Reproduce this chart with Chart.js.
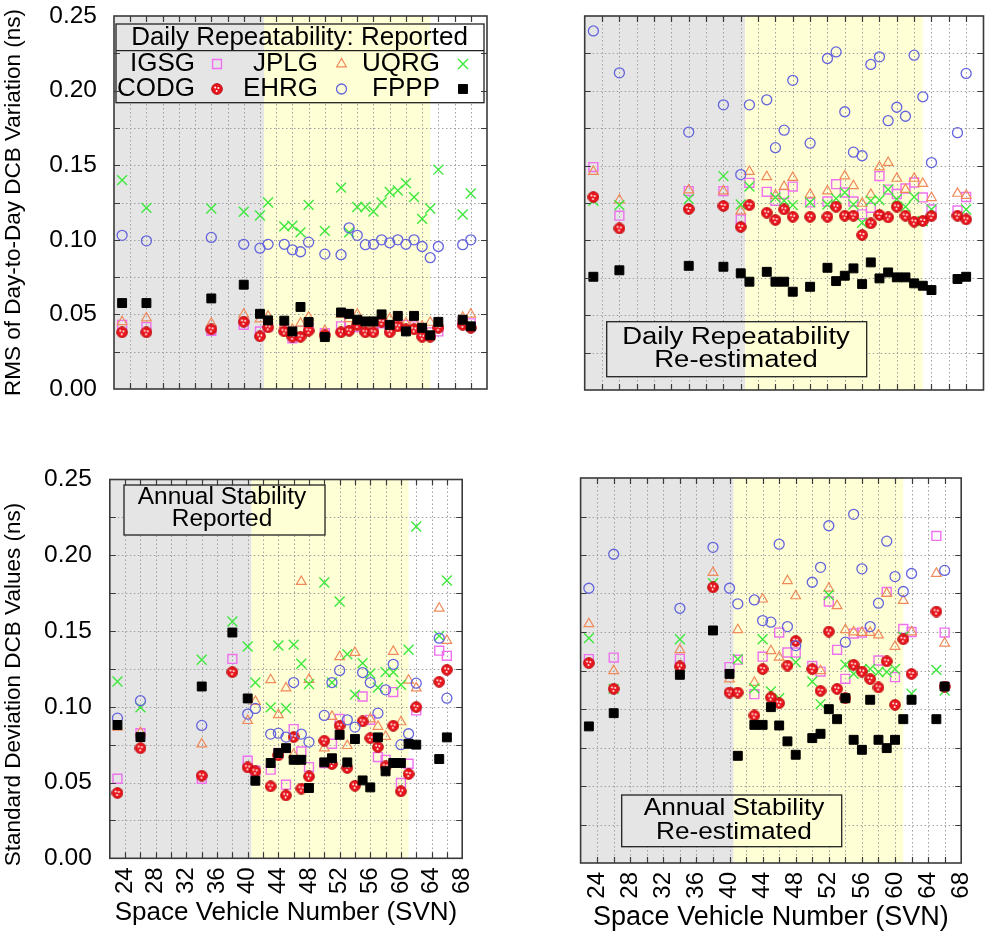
<!DOCTYPE html>
<html><head><meta charset="utf-8">
<script src="https://cdn.jsdelivr.net/npm/chart.js@4.4.1/dist/chart.umd.min.js"></script>
<style>
html,body{margin:0;padding:0;background:#fff;}
#wrap{position:relative;width:999px;height:939px;overflow:hidden;background:#fff;}
#wrap canvas{position:absolute;}
</style></head><body><div id="wrap">
<canvas id="cTL" width="500" height="410" style="left:0px;top:0px"></canvas>
<canvas id="cTR" width="499" height="410" style="left:500px;top:0px"></canvas>
<canvas id="cBL" width="500" height="529" style="left:0px;top:410px"></canvas>
<canvas id="cBR" width="499" height="529" style="left:500px;top:410px"></canvas>
</div>
<script>
// ================= DATA =================
const seriesNames = ['IGSG', 'JPLG', 'UQRG', 'CODG', 'EHRG', 'FPPP'];
const xTickLabels = [24, 28, 32, 36, 40, 44, 48, 52, 56, 60, 64, 68];
const yTickLabels = [0, 0.05, 0.10, 0.15, 0.20, 0.25];
const blockBounds = [40.5, 61];   // IIA | IIR/IIR-M | IIF shading boundaries (SVN)

// Daily repeatability (top panels)
const svnDaily = [23, 26, 34, 38, 40, 41, 43, 44, 45, 46, 48, 50, 51, 52, 53, 54, 55, 56, 57, 58, 59, 60, 61, 62, 65, 66];
// reported (top-left)
const drIGSG = [.043, .0415, .039, .043, .0386, .042, .0397, .034, .039, .041, .0375, .042, .0446, .0415, .0397, .041, .044, .041, .043, .043, .042, .038, .038, .0386, .045, .044];
const drJPLG = [.045, .0475, .044, .050, .0469, .0487, .043, .040, .044, .048, .039, .050, .047, .050, .043, .044, .047, .047, .046, .044, .045, .042, .0446, .044, .048, .050];
const drUQRG = [.140, .1214, .121, .1188, .1163, .125, .109, .1094, .105, .1234, .106, .135, .105, .122, .122, .119, .125, .132, .133, .138, .1286, .114, .121, .147, .117, .131];
const drCODG = [.038, .038, .040, .045, .0353, .0413, .0386, .035, .035, .039, .036, .038, .039, .043, .038, .038, .045, .038, .042, .040, .040, .035, .035, .041, .043, .041];
const drEHRG = [.103, .0993, .1016, .097, .0944, .097, .097, .0933, .092, .0984, .0904, .090, .108, .103, .0967, .097, .100, .098, .100, .097, .100, .0955, .088, .0955, .0967, .100];
const drFPPP = [.0576, .0576, .0607, .0699, .0504, .046, .0458, .0386, .055, .0449, .0348, .0513, .0504, .0464, .0453, .0453, .050, .043, .049, .0386, .049, .041, .036, .045, .0464, .042];
// re-estimated (top-right)
const deIGSG = [.149, .1165, .133, .133, .114, .1385, .1325, .1265, .131, .136, .1254, .126, .1376, .132, .126, .1174, .1218, .143, .134, .131, .1347, .1387, .1287, .1207, .120, .129];
const deJPLG = [.146, .127, .1336, .133, .1196, .146, .1425, .130, .136, .142, .1307, .133, null, .143, .1365, .1247, .1307, .149, .152, .1414, .134, .1414, .138, .1285, .1314, .130];
const deUQRG = [.1265, .1236, .1276, .143, .124, .136, null, .1287, .1265, .1236, .1254, .124, .128, .132, .124, .1118, .1265, .127, .134, .1276, .1225, .129, .113, .1207, null, .1207];
const deCODG = [.129, .108, .121, .123, .109, .1236, .1185, .1136, .1207, .1158, .1158, .1158, .1225, .1165, .1165, .1036, .1114, .117, .1154, .1225, .1165, .1125, .113, .1163, .1165, .114];
const deEHRG = [.240, .212, .1724, .1906, .144, .1906, .194, .162, .1737, .207, .165, .2216, .226, .186, .159, .1566, .2176, .2227, .18, .189, .183, .2238, .196, .152, .172, .2116];
const deFPPP = [.0757, .080, .083, .0824, .078, .0724, .079, .0724, .0724, .0657, .069, .0817, .0728, .0764, .0813, .0708, .0853, .0746, .0786, .0753, .0753, .0713, .0697, .0668, .0742, .0757];

// Annual stability (bottom panels)
const svnAnnual = [23, 26, 34, 38, 40, 41, 43, 44, 45, 46, 47, 48, 50, 51, 52, 53, 54, 55, 56, 57, 58, 59, 60, 61, 62, 65, 66];
// reported (bottom-left)
const arIGSG = [.0525, .0826, .0525, .1316, .0644, .0578, .0585, .0695, .0486, .0853, .0705, .0602, .0629, .0756, .092, null, null, .1068, .0914, .0668, .065, .1097, .0497, .0624, .0976, .137, .1336];
const arJPLG = [.0864, .083, .0754, null, .0908, .1035, .1178, .0947, .1123, .0684, .1826, .118, .0727, .0936, .133, .0743, .1358, null, .0919, .087, .0804, .1365, .090, .1174, .1123, .165, .1437];
const arUQRG = [.1167, .0996, .131, .1563, .1398, .116, .0996, .1404, .099, .141, .1284, .115, .182, .116, .1695, .1347, .108, .1288, .122, .1127, .1229, .1229, .1145, .1376, .219, .1468, .1833];
const arCODG = [.0431, .0727, .0545, .1229, .060, .0574, .0475, .068, .0415, .080, .046, .054, .0776, .0622, .0875, .0596, .0479, .0903, .0793, .0734, .0607, .0875, .0442, .0556, .0998, .1165, .1244];
const arEHRG = [.0925, .104, .0877, null, .0952, .0989, .082, .0826, .080, .116, .082, .0767, .0943, .116, .124, .0914, .0866, .1226, .116, .0958, .1112, .128, .075, .0822, .1156, .1453, .1057];
const arFPPP = [.088, .080, .1134, .149, .1055, .0512, .0629, .0695, .0727, .065, .065, .0464, .0633, .066, .0815, .0633, .0787, .0514, .0468, .0798, .0574, .0629, .0629, .0756, .075, .0655, .0798];
// re-estimated (bottom-right)
const aeIGSG = [.1324, .1334, .1326, null, .1272, .132, .1096, .134, null, .1496, .1367, .1367, .128, .1243, .1698, .1384, .1196, .149, .1496, null, .1315, .176, .1207, .152, .150, .2124, .1496];
const aeJPLG = [.1553, .1248, .1384, .1886, .1194, .1514, .1172, .1713, .1378, .1336, .1832, .1734, null, .1248, .1784, .167, .1514, .150, .1496, .1496, .148, .175, .1406, .1704, .150, .188, .1427];
const aeUQRG = [.146, .1131, .1453, .1817, null, .1324, .1135, .1453, .1114, .107, null, .1304, .1179, .1032, .174, null, .1287, .1228, .1259, .126, .124, .124, .126, .147, .1099, .1254, .112];
const aeCODG = [.1298, .1131, .1276, .179, .1107, .1107, .0958, .1259, .1075, .1038, .1282, .1442, .1259, .1118, .1503, .1131, .107, .1287, .1243, .1194, .114, .131, .1027, .1453, .1228, .1633, .1146];
const aeEHRG = [.1784, .2005, .1654, .205, .1784, .1683, .1708, .1574, .1564, .207, .1535, .1412, .1823, .192, .219, null, .1434, .2264, .191, .1535, .1687, .209, .186, .1763, .188, null, .190];
const aeFPPP = [.0887, .0973, .1222, .151, .1228, .0696, .0897, .0897, .1012, .0893, .079, .0703, .0811, .0839, .0999, .0934, .107, .080, .0735, .106, .080, .0746, .080, .0934, .106, .0934, .1146];

// ================= STYLE / LAYOUT =================
const FONT = "'Liberation Sans', Arial, Helvetica, sans-serif";
const COL = { gray: '#e5e5e5', yellow: '#ffffd6', grid: '#a0a0a0', frame: '#3a3a3a' };

function makeBall() {
  const c = document.createElement('canvas');
  c.width = 12; c.height = 12;
  const g = c.getContext('2d');
  g.beginPath(); g.arc(6, 6, 5.4, 0, Math.PI * 2);
  g.fillStyle = '#e8161c'; g.fill();
  g.lineWidth = 0.8; g.strokeStyle = '#b00008'; g.stroke();
  g.fillStyle = '#ffffff';
  [[4.2, 4.6], [7.4, 5.0], [5.6, 8.0]].forEach(([a, b]) => { g.beginPath(); g.arc(a, b, 1.0, 0, Math.PI * 2); g.fill(); });
  return c;
}
const BALL = makeBall();

const STY = [
  { style: 'rect', r: 6.3, stroke: '#ee70ee', fill: 'rgba(0,0,0,0)', lw: 1.4 },      // IGSG
  { style: 'triangle', r: 5.6, stroke: '#f08a5a', fill: 'rgba(0,0,0,0)', lw: 1.2 },  // JPLG
  { style: 'crossRot', r: 7, stroke: '#3ee83e', fill: 'rgba(0,0,0,0)', lw: 1.4 },    // UQRG
  { style: BALL, r: 6, stroke: '#e8161c', fill: '#e8161c', lw: 0 },                    // CODG
  { style: 'circle', r: 5, stroke: '#6464dc', fill: 'rgba(0,0,0,0)', lw: 1.3 },      // EHRG
  { style: 'rect', r: 6.3, stroke: '#000', fill: '#000', lw: 1 }                      // FPPP
];

function paintBands(ctx, x, l, t, r, b) {
  const b0 = x.getPixelForValue(blockBounds[0]);
  const b1 = x.getPixelForValue(blockBounds[1]);
  ctx.fillStyle = '#ffffff'; ctx.fillRect(l, t, r - l, b - t);
  ctx.fillStyle = COL.gray;
  if (b0 > l) ctx.fillRect(l, t, Math.min(b0, r) - l, b - t);
  ctx.fillStyle = COL.yellow;
  const y0 = Math.max(b0, l), y1 = Math.min(b1, r);
  if (y1 > y0) ctx.fillRect(y0, t, y1 - y0, b - t);
}

function sText(ctx, text, cx, cy, size, sx, align) {
  ctx.save();
  ctx.translate(cx, cy); ctx.scale(sx || 1, 1);
  ctx.font = size + 'px ' + FONT;
  ctx.textAlign = align || 'center'; ctx.textBaseline = 'middle'; ctx.fillStyle = '#000';
  ctx.fillText(text, 0, 0);
  ctx.restore();
}

const decorPlugin = {
  id: 'decor',
  beforeDatasetsDraw(chart, args, o) {
    const { ctx, chartArea: a, scales: { x, y } } = chart;
    const off = o.off;
    ctx.save();
    ctx.beginPath(); ctx.rect(a.left, a.top, a.right - a.left, a.bottom - a.top); ctx.clip();
    paintBands(ctx, x, a.left, a.top, a.right, a.bottom);
    ctx.strokeStyle = COL.grid; ctx.lineWidth = 1; ctx.setLineDash([1.5, 2.5]);
    for (let v = 24; v <= 66; v += 2) {
      const px = Math.round(x.getPixelForValue(v)) + 0.5;
      ctx.beginPath(); ctx.moveTo(px, a.top); ctx.lineTo(px, a.bottom); ctx.stroke();
    }
    for (let k = 1; k < 10; k++) {
      const py = Math.round(y.getPixelForValue(k * 0.025)) + 0.5;
      ctx.beginPath(); ctx.moveTo(a.left, py); ctx.lineTo(a.right, py); ctx.stroke();
    }
    ctx.setLineDash([]);
    (o.boxes || []).forEach(bx => {
      const l = bx.rect[0] - off[0], t = bx.rect[1] - off[1], r = bx.rect[2] - off[0], b = bx.rect[3] - off[1];
      paintBands(ctx, x, l, t, r, b);
      ctx.strokeStyle = '#222'; ctx.lineWidth = 1.3;
      ctx.strokeRect(l, t, r - l, b - t);
      if (bx.sep) { ctx.beginPath(); ctx.moveTo(l, bx.sep - off[1]); ctx.lineTo(r, bx.sep - off[1]); ctx.stroke(); }
      (bx.lines || []).forEach(ln => sText(ctx, ln.text, ln.cx - off[0], ln.cy - off[1], bx.size, bx.sx));
    });
    if (o.legend) {
      const L = o.legend;
      L.entries.forEach(en => {
        const i = seriesNames.indexOf(en.name);
        sText(ctx, en.name, en.tx - off[0], en.y - off[1], L.size, 1, 'right');
        const st = STY[i];
        ctx.save();
        ctx.fillStyle = st.fill; ctx.strokeStyle = st.stroke; ctx.lineWidth = st.lw;
        Chart.helpers.drawPoint(ctx, { pointStyle: st.style, radius: st.r, rotation: 0, borderWidth: st.lw }, en.mx - off[0], en.y - off[1]);
        ctx.restore();
      });
    }
    ctx.restore();
  },
  afterDatasetsDraw(chart) {
    const { ctx, chartArea: a, scales: { x, y } } = chart;
    ctx.save();
    ctx.strokeStyle = COL.frame; ctx.lineWidth = 1.2;
    const T = 6;
    for (let v = 24; v <= 66; v += 2) {
      const px = Math.round(x.getPixelForValue(v)) + 0.5;
      ctx.beginPath(); ctx.moveTo(px, a.top); ctx.lineTo(px, a.top + T); ctx.moveTo(px, a.bottom); ctx.lineTo(px, a.bottom - T); ctx.stroke();
    }
    for (let k = 1; k < 10; k++) {
      const py = Math.round(y.getPixelForValue(k * 0.025)) + 0.5;
      ctx.beginPath(); ctx.moveTo(a.left, py); ctx.lineTo(a.left + T, py); ctx.moveTo(a.right, py); ctx.lineTo(a.right - T, py); ctx.stroke();
    }
    ctx.lineWidth = 1.6;
    ctx.strokeRect(a.left, a.top, a.right - a.left, a.bottom - a.top);
    ctx.restore();
  }
};

function makeChart(id, P, svn, vals) {
  const canvas = document.getElementById(id);
  const [cl, ct, cw, ch] = P.canvas;
  const [pl, pt, pr, pb] = P.plot;
  const datasets = seriesNames.map((name, i) => ({
    label: name,
    data: svn.map((s, k) => (vals[i][k] == null ? null : { x: s, y: vals[i][k] })).filter(Boolean),
    pointStyle: STY[i].style,
    pointRadius: STY[i].r,
    pointBorderWidth: STY[i].lw,
    pointBorderColor: STY[i].stroke,
    pointBackgroundColor: STY[i].fill,
    borderColor: STY[i].stroke,
    backgroundColor: STY[i].fill,
    showLine: false,
    order: 6 - i
  }));
  return new Chart(canvas, {
    type: 'scatter',
    data: { datasets },
    plugins: [decorPlugin],
    options: {
      responsive: false, animation: false, events: [],
      layout: { autoPadding: false, padding: { left: 0, top: pt - ct, right: (cl + cw) - pr, bottom: (ct + ch) - pb - P.xh } },
      plugins: {
        legend: { display: false }, tooltip: { enabled: false },
        decor: { off: [cl, ct], boxes: P.boxes, legend: P.legend }
      },
      scales: {
        x: {
          type: 'linear', min: 22, max: 68,
          afterBuildTicks: s => { s.ticks = xTickLabels.map(v => ({ value: v })); },
          afterFit: s => { s.height = P.xh; },
          grid: { display: false, drawTicks: false },
          border: { display: false },
          ticks: { display: P.xlabels, autoSkip: false, minRotation: 90, maxRotation: 90, padding: 9, color: '#000',
                   font: { family: FONT, size: P.xtick } },
          title: { display: P.xlabels, text: 'Space Vehicle Number (SVN)', color: '#000',
                   font: { family: FONT, size: P.xtitle }, padding: { top: 0, bottom: P.xtPad } }
        },
        y: {
          type: 'linear', min: 0, max: 0.25,
          afterBuildTicks: s => { s.ticks = yTickLabels.map(v => ({ value: v })); },
          afterFit: s => { s.width = pl - cl; },
          grid: { display: false, drawTicks: true, tickLength: P.ytPad || 17 },
          border: { display: false },
          ticks: { display: !!P.ytitle, padding: 0, color: '#000', font: { family: FONT, size: 24.5 },
                   callback: v => Number(v).toFixed(2) },
          title: { display: !!P.ytitle, text: P.ytitle || '', color: '#000',
                   font: { family: FONT, size: 22.5 }, padding: { top: 0, bottom: 0 } }
        }
      }
    }
  });
}

makeChart('cTL', {
  canvas: [0, 0, 500, 410], plot: [114, 16, 487, 389], xh: 0, xlabels: false,
  ytitle: 'RMS of Day-to-Day DCB Variation (ns)', ytPad: 17,
  boxes: [{ rect: [116, 24, 484, 102.7], sep: 50.7, size: 26, sx: 1,
            lines: [{ text: 'Daily Repeatability: Reported', cx: 299.5, cy: 37.5 }] }],
  legend: { size: 26, entries: [
    { name: 'IGSG', tx: 195, mx: 217, y: 64 }, { name: 'JPLG', tx: 318, mx: 341.5, y: 64 }, { name: 'UQRG', tx: 440, mx: 463, y: 64 },
    { name: 'CODG', tx: 195, mx: 217, y: 89 }, { name: 'EHRG', tx: 318, mx: 341.5, y: 89 }, { name: 'FPPP', tx: 440, mx: 463, y: 89 } ] }
}, svnDaily, [drIGSG, drJPLG, drUQRG, drCODG, drEHRG, drFPPP]);

makeChart('cTR', {
  canvas: [500, 0, 499, 410], plot: [584.7, 16, 983.5, 390], xh: 0, xlabels: false,
  boxes: [{ rect: [606.7, 321.7, 866.7, 376.7], size: 23.5, sx: 1.17,
            lines: [{ text: 'Daily Repeatability', cx: 736, cy: 337.5 }, { text: 'Re-estimated', cx: 736, cy: 361 }] }]
}, svnDaily, [deIGSG, deJPLG, deUQRG, deCODG, deEHRG, deFPPP]);

makeChart('cBL', {
  canvas: [0, 410, 500, 529], plot: [109.8, 479.5, 482.7, 858.3], xh: 80.7, xlabels: true, xtick: 24, xtitle: 26, xtPad: 11,
  ytitle: 'Standard Deviation DCB Values (ns)\u00a0\u00a0\u00a0\u00a0\u00a0', ytPad: 18,
  boxes: [{ rect: [124, 485, 325, 535], size: 23.5, sx: 1.04,
            lines: [{ text: 'Annual Stability', cx: 222, cy: 497.5 }, { text: 'Reported', cx: 222, cy: 520 }] }]
}, svnAnnual, [arIGSG, arJPLG, arUQRG, arCODG, arEHRG, arFPPP]);

makeChart('cBR', {
  canvas: [500, 410, 499, 529], plot: [580.6, 478, 987.3, 863], xh: 76, xlabels: true, xtick: 24, xtitle: 27, xtPad: 5,
  boxes: [{ rect: [621.7, 795, 841.7, 846.7], size: 24.5, sx: 1.07,
            lines: [{ text: 'Annual Stability', cx: 734, cy: 808 }, { text: 'Re-estimated', cx: 734, cy: 832 }] }]
}, svnAnnual, [aeIGSG, aeJPLG, aeUQRG, aeCODG, aeEHRG, aeFPPP]);
</script>
</body></html>
